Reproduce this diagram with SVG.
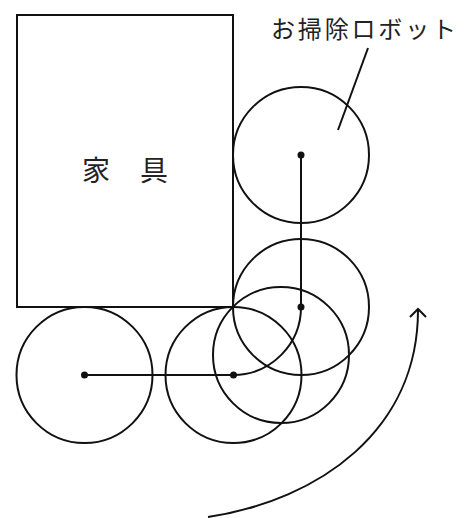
<svg xmlns="http://www.w3.org/2000/svg" width="475" height="518" viewBox="0 0 475 518">
<style>
.s{fill:none;stroke:#111;stroke-width:2}
.d{fill:#111}
.t{font-family:"Noto Sans CJK JP","Noto Sans",sans-serif;fill:#222}
</style>
<rect width="475" height="518" fill="#fff"/>
<g id="furniture">
<rect class="s" x="17" y="15" width="216" height="292"/>
<text class="t" x="125" y="181" font-size="28" text-anchor="middle" textLength="86">家　具</text>
</g>
<g id="robot1"><circle class="s" cx="301" cy="155" r="68"/><circle class="d" cx="301" cy="155" r="3.5"/></g>
<g id="robot2"><circle class="s" cx="301" cy="307" r="68"/><circle class="d" cx="301" cy="307" r="3.5"/></g>
<g id="robot3"><circle class="s" cx="281" cy="355" r="68"/></g>
<g id="robot4"><circle class="s" cx="233.5" cy="375" r="68"/><circle class="d" cx="233.5" cy="375" r="3.5"/></g>
<g id="robot5"><circle class="s" cx="84.5" cy="375" r="68"/><circle class="d" cx="84.5" cy="375" r="3.5"/></g>
<g id="label">
<text class="t" x="271" y="38" font-size="24" textLength="185" lengthAdjust="spacing">お掃除ロボット</text>
</g>
<g id="connectors">
<path class="s" d="M84.5,375 H233.5 A68,68 0 0 0 301,307 V155"/>
<path class="s" stroke-width="1.3" d="M338,130 L368,48"/>
<path class="s" d="M208,517 C320,500 418,430 418,310"/>
<path class="s" d="M410,317 L418,309 L426,317"/>
</g>
</svg>
